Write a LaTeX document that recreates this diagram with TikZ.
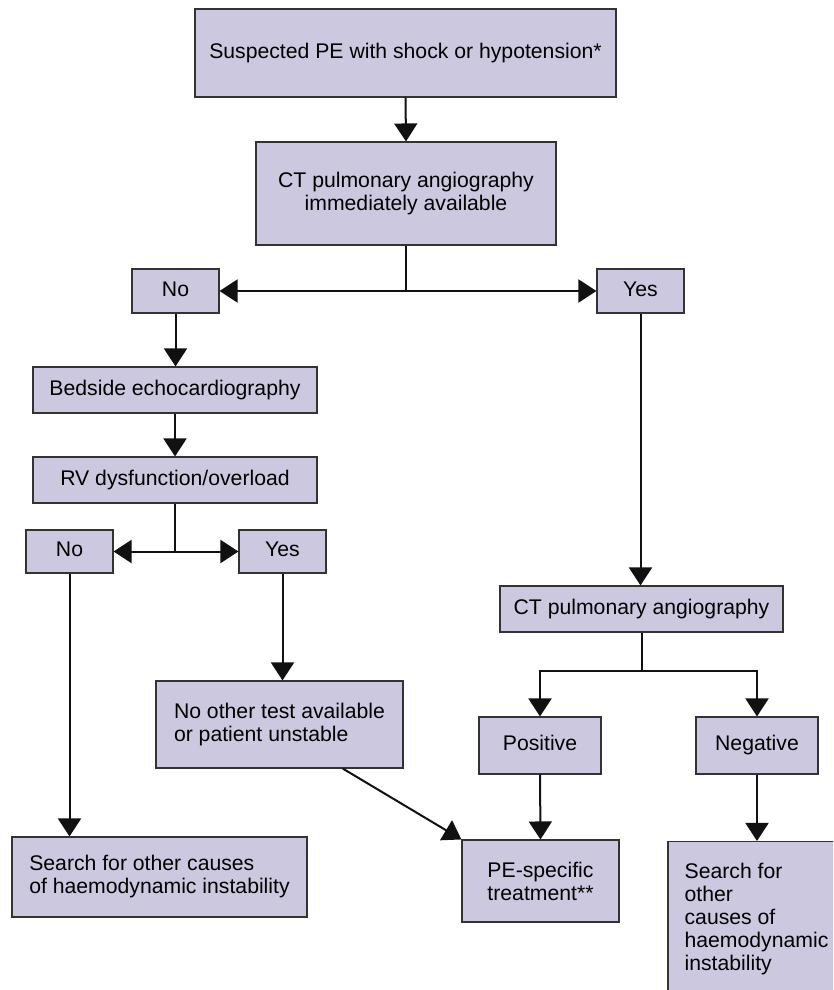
\documentclass[tikz,border=0pt]{standalone}
\usepackage{fontspec}
\setmainfont{Liberation Sans}
\usetikzlibrary{arrows.meta,calc}
\definecolor{boxfill}{HTML}{CCC8E0}
\definecolor{boxline}{HTML}{333333}
\definecolor{arrowc}{HTML}{111111}
\begin{document}
\begin{tikzpicture}[x=1pt,y=-1pt,
  box/.style={draw=boxline,line width=1.1pt,fill=boxfill,inner sep=0pt,
    font=\fontsize{21.2}{23}\selectfont,text=black},
  one/.style={text height=15pt,text depth=4.5pt},
  arr/.style={draw=arrowc,line width=2pt,-{Triangle[length=18pt,width=23pt]}},
  ln/.style={draw=arrowc,line width=2pt}]
\clip (0,0) rectangle (833,990);
\fill[white] (0,0) rectangle (833,990);
\node[box,one,minimum width=421,minimum height=88] (top) at (405.5,53) {Suspected PE with shock or hypotension*};
\node[box,minimum width=300,minimum height=103,align=center] (ct) at (406,193.5) {CT pulmonary angiography\\immediately available};
\node[box,one,minimum width=87,minimum height=44] (no1) at (175.5,291) {No};
\node[box,one,minimum width=87,minimum height=44] (yes1) at (640.5,291) {Yes};
\node[box,one,minimum width=284,minimum height=46] (bed) at (175,390) {Bedside echocardiography};
\node[box,one,minimum width=284,minimum height=46] (rv) at (175,480) {RV dysfunction/overload};
\node[box,one,minimum width=87,minimum height=43] (no2) at (69.5,551.5) {No};
\node[box,one,minimum width=87,minimum height=43] (yes2) at (282.5,551.5) {Yes};
\node[box,minimum width=247,minimum height=87,align=left] (noother) at (279.5,724.5) {No other test available\\or patient unstable};
\node[box,minimum width=295,minimum height=80,align=left] (search1) at (159.5,877) {Search for other causes\\of haemodynamic instability};
\node[box,one,minimum width=283,minimum height=46] (ct2) at (641.5,609) {CT pulmonary angiography};
\node[box,one,minimum width=122,minimum height=57] (pos) at (540,745.5) {Positive};
\node[box,one,minimum width=122,minimum height=57] (neg) at (757,745.5) {Negative};
\node[box,minimum width=157,minimum height=82,align=left] (pe) at (540.5,881) {PE-specific\\treatment**};
\node[box,minimum width=177,minimum height=155,align=left] (search2) at (756.5,919) {Search for\\other\\causes of\\haemodynamic\\instability};
% connectors
\draw[arr] (top.south) -- (ct.north);
\coordinate (j1) at (ct.south |- no1.east);
\draw[ln] (ct.south) -- (j1);
\draw[arr] (j1) -- (no1.east);
\draw[arr] (j1) -- (yes1.west);
\draw[arr] (no1.south) -- (no1.south |- bed.north);
\draw[arr] (bed.south) -- (rv.north);
\coordinate (j2) at (rv.south |- no2.east);
\draw[ln] (rv.south) -- (j2);
\draw[arr] (j2) -- (no2.east);
\draw[arr] (j2) -- (yes2.west);
\draw[arr] (yes2.south) -- (yes2.south |- noother.north);
\draw[arr] (no2.south) -- (no2.south |- search1.north);
\draw[arr] (yes1.south) -- (yes1.south |- ct2.north);
\coordinate (j3) at (641.5,671);
\draw[ln] (ct2.south) -- (j3);
\draw[arr] (j3) -| (pos.north);
\draw[arr] (j3) -| (neg.north);
\draw[arr] (pos.south) -- (pe.north);
\draw[arr] (neg.south) -- (neg.south |- search2.north);
\coordinate (dstart) at ($(noother.south west)!0.755!(noother.south east)$);
\draw[arr] (dstart) -- (pe.north west);
\end{tikzpicture}
\end{document}
